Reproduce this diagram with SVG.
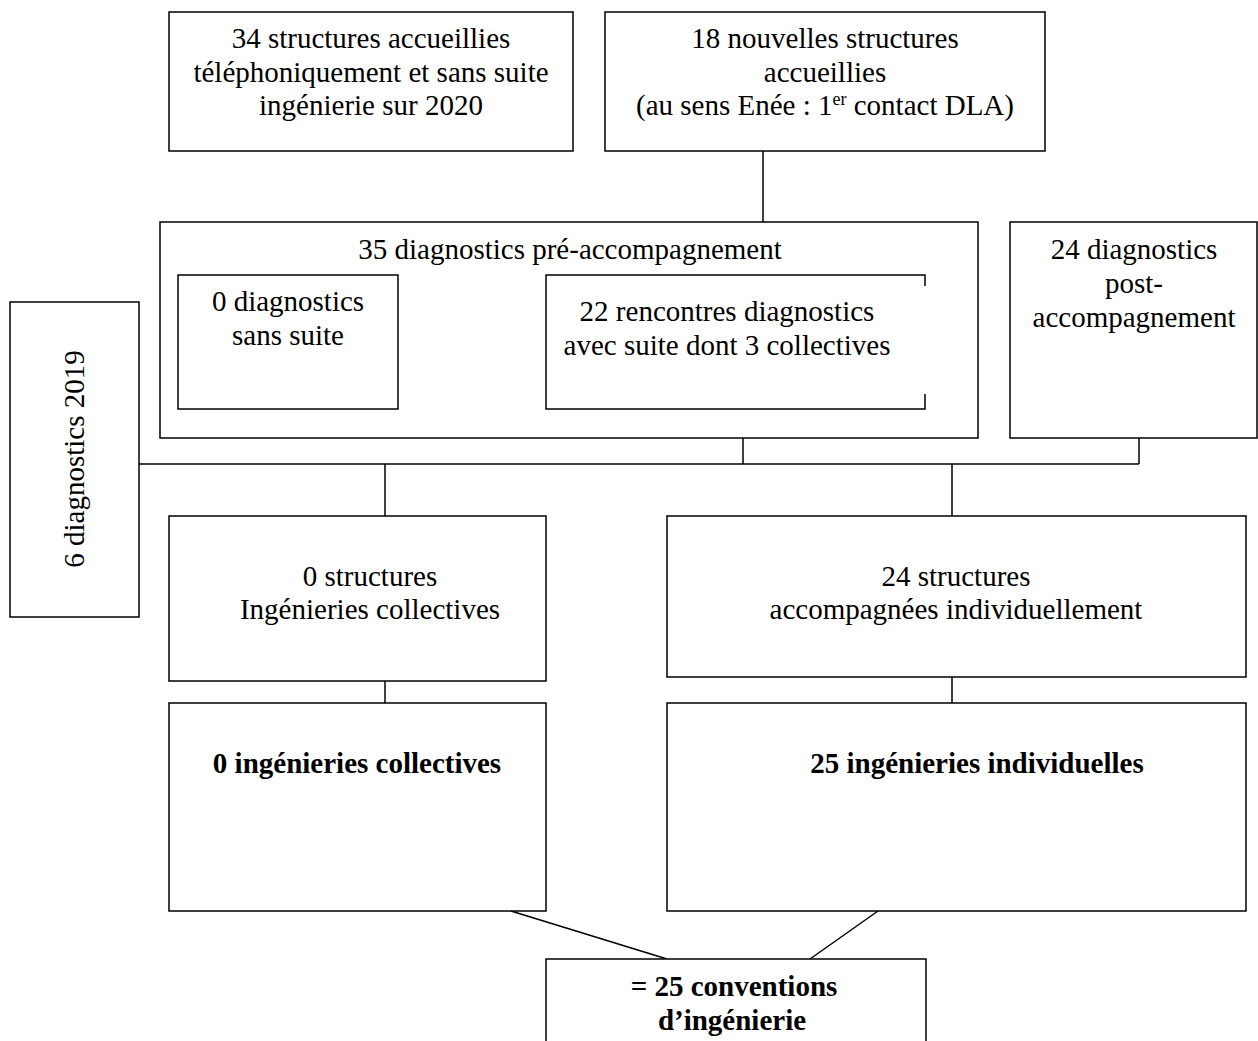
<svg xmlns="http://www.w3.org/2000/svg" width="1258" height="1041" viewBox="0 0 1258 1041">
<style>
.b{fill:#fff;stroke:#000;stroke-width:1.5}
.t{font-family:"Liberation Serif","Times New Roman",serif;font-size:29px;fill:#000;text-anchor:middle}
.bd{font-weight:bold}
.c{fill:none;stroke:#000;stroke-width:1.5}
</style>
<rect width="1258" height="1041" fill="#fff"/>
<g id="connectors">
<line class="c" x1="763" y1="151" x2="763" y2="222"/>
<line class="c" x1="139" y1="464" x2="1139" y2="464"/>
<line class="c" x1="743" y1="438" x2="743" y2="464"/>
<line class="c" x1="1139" y1="438" x2="1139" y2="464"/>
<line class="c" x1="385" y1="464" x2="385" y2="516"/>
<line class="c" x1="952" y1="464" x2="952" y2="516"/>
<line class="c" x1="385" y1="681" x2="385" y2="703"/>
<line class="c" x1="952" y1="677" x2="952" y2="703"/>
<line class="c" x1="511" y1="911" x2="667" y2="959"/>
<line class="c" x1="878" y1="911" x2="810" y2="959"/>
</g>
<g id="n-tel">
<rect class="b" x="169" y="12" width="404" height="139"/>
<text class="t" x="371" y="48">34 structures accueillies</text>
<text class="t" x="371" y="82">téléphoniquement et sans suite</text>
<text class="t" x="371" y="115">ingénierie sur 2020</text>
</g>
<g id="n-new">
<rect class="b" x="605" y="12" width="440" height="139"/>
<text class="t" x="825" y="48">18 nouvelles structures</text>
<text class="t" x="825" y="82">accueillies</text>
<text class="t" x="825" y="115">(au sens Enée : 1<tspan font-size="18" dy="-10">er</tspan><tspan dy="10"> contact DLA)</tspan></text>
</g>
<g id="n-pre">
<rect class="b" x="160" y="222" width="818" height="216"/>
<text class="t" x="570" y="259">35 diagnostics pré-accompagnement</text>
</g>
<g id="n-sans">
<rect class="b" x="178" y="275" width="220" height="134"/>
<text class="t" x="288" y="311">0 diagnostics</text>
<text class="t" x="288" y="345">sans suite</text>
</g>
<g id="n-avec">
<rect x="546" y="275" width="379" height="134" fill="#fff"/>
<path class="c" d="M925,286 V275 H546 V409 H925 V394"/>
<text class="t" x="727" y="321">22 rencontres diagnostics</text>
<text class="t" x="727" y="355">avec suite dont 3 collectives</text>
</g>
<g id="n-post">
<rect class="b" x="1010" y="222" width="247" height="216"/>
<text class="t" x="1134" y="259">24 diagnostics</text>
<text class="t" x="1134" y="293">post-</text>
<text class="t" x="1134" y="327">accompagnement</text>
</g>
<g id="n-2019">
<rect class="b" x="10" y="302" width="129" height="315"/>
<text class="t" transform="translate(84,459) rotate(-90)">6 diagnostics 2019</text>
</g>
<g id="n-struct-coll">
<rect class="b" x="169" y="516" width="377" height="165"/>
<text class="t" x="370" y="586">0 structures</text>
<text class="t" x="370" y="619">Ingénieries collectives</text>
</g>
<g id="n-struct-ind">
<rect class="b" x="667" y="516" width="579" height="161"/>
<text class="t" x="956" y="586">24 structures</text>
<text class="t" x="956" y="619">accompagnées individuellement</text>
</g>
<g id="n-ing-coll">
<rect class="b" x="169" y="703" width="377" height="208"/>
<text class="t bd" x="357" y="773">0 ingénieries collectives</text>
</g>
<g id="n-ing-ind">
<rect class="b" x="667" y="703" width="579" height="208"/>
<text class="t bd" x="977" y="773">25 ingénieries individuelles</text>
</g>
<g id="n-conv">
<rect class="b" x="546" y="959" width="380" height="100"/>
<text class="t bd" x="734" y="996">= 25 conventions</text>
<text class="t bd" x="732" y="1030">d’ingénierie</text>
</g>
</svg>
